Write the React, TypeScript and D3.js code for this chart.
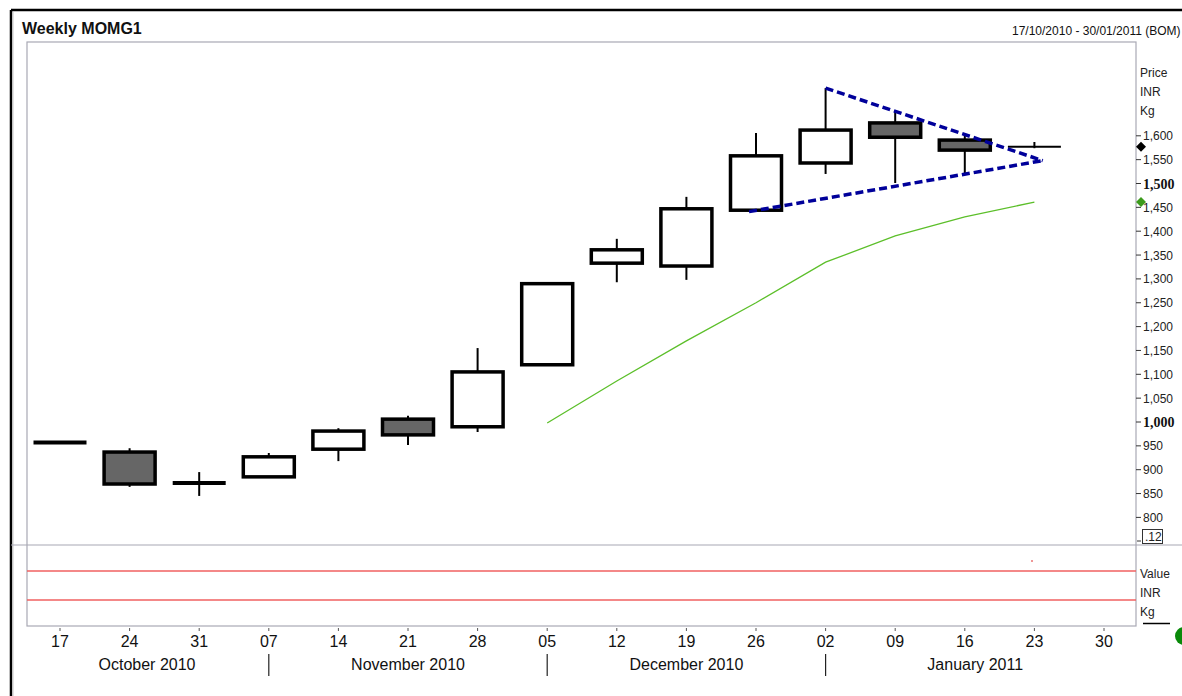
import React from "react";
import * as d3 from "d3";

// Weekly candles (17 Oct 2010 .. 23 Jan 2011)
const weeks = ["17", "24", "31", "07", "14", "21", "28", "05", "12", "19", "26", "02", "09", "16", "23", "30"];
const opens = [957, 937, 872, 885, 943, 1006, 990, 1120, 1333, 1327, 1444, 1543, 1627, 1591, 1577];
const highs = [957, 945, 895, 935, 987, 1013, 1155, 1292, 1384, 1472, 1606, 1700, 1650, 1600, 1587];
const lows = [957, 864, 845, 885, 918, 952, 979, 1118, 1293, 1298, 1444, 1520, 1501, 1518, 1574];
const closes = [957, 870, 872, 927, 981, 973, 1105, 1290, 1361, 1447, 1558, 1612, 1597, 1570, 1577];

// moving average line (starts at week index 7)
const maStart = 7;
const maValues = [998, 1086, 1170, 1250, 1335, 1390, 1430, 1461];

// triangle trend lines: [index, value]
const upperTrend: [number, number][] = [[11, 1700], [14.12, 1548]];
const lowerTrend: [number, number][] = [[9.9, 1441], [14.12, 1548]];

const months = [
  { label: "October 2010", at: 1.25 },
  { label: "November 2010", at: 5 },
  { label: "December 2010", at: 9 },
  { label: "January 2011", at: 13.15 },
];
const monthSeps = [3, 7, 11];

const priceTicks = d3.range(800, 1601, 50);
const boldTicks = [1000, 1500];

const W = 1182, H = 696;
const plotL = 27, plotR = 1136, plotT = 42, mainB = 545, lowB = 626;

const diamond = (cx: number, cy: number, r: number) =>
  `M${cx},${cy - r}L${cx + r},${cy}L${cx},${cy + r}L${cx - r},${cy}Z`;

export default function App() {
  const x = d3.scaleLinear().domain([0, 15]).range([60, 1104]);
  const y = d3.scaleLinear().domain([800, 1600]).range([517.4, 135.8]);
  const bodyW = 51;
  const fmt = d3.format(",");
  const maLine = d3.line<number>().x((_, i) => x(maStart + i)).y((d) => y(d));
  const trend = d3.line<[number, number]>().x((d) => x(d[0])).y((d) => y(d[1]));
  const font = "Arial, 'Liberation Sans', sans-serif";
  const gray = "#a8a8b4";

  return (
    <div style={{ position: "absolute", left: 0, top: 0 }}>
      <svg width={W} height={H} style={{ display: "block", fontFamily: font }}>
        <rect x={0} y={0} width={W} height={H} fill="#fff" />
        {/* outer frame */}
        <line x1={11} y1={10} x2={W} y2={10} stroke="#000" strokeWidth={2.5} />
        <line x1={11} y1={10} x2={11} y2={H} stroke="#000" strokeWidth={2.5} />
        <line x1={13} y1={12} x2={13} y2={H} stroke="#c8c8c8" strokeWidth={1} />
        <text x={22} y={34} fontSize={16} fontWeight="bold" fill="#111">Weekly MOMG1</text>
        <text x={1012} y={35} fontSize={12} fill="#111">17/10/2010 - 30/01/2011 (BOM)</text>

        {/* panels */}
        <rect x={plotL} y={plotT} width={plotR - plotL} height={lowB - plotT} fill="none" stroke={gray} strokeWidth={1.2} />
        <line x1={11} y1={mainB} x2={W} y2={mainB} stroke={gray} strokeWidth={1.2} />

        {/* right axis */}
        {priceTicks.map((t) => (
          <g key={t}>
            <line x1={plotR} x2={plotR + 5} y1={y(t)} y2={y(t)} stroke="#333" />
            {boldTicks.includes(t) ? (
              <text x={plotR + 7} y={y(t) + 5} fontSize={14} fontWeight="bold" fontFamily="'Liberation Serif', 'Times New Roman', serif" fill="#111">{fmt(t)}</text>
            ) : (
              <text x={plotR + 7} y={y(t) + 4.5} fontSize={12} fill="#222">{fmt(t)}</text>
            )}
          </g>
        ))}
        <text x={1140} y={77} fontSize={12} fill="#222">Price</text>
        <text x={1140} y={96} fontSize={12} fill="#222">INR</text>
        <text x={1140} y={115} fontSize={12} fill="#222">Kg</text>
        <line x1={plotR + 1} x2={plotR + 5} y1={541} y2={541} stroke="#333" />
        <rect x={1142.5} y={529.5} width={20} height={14} fill="#fff" stroke="#333" />
        <text x={1145} y={541} fontSize={12} fill="#222">.12</text>

        {/* last value markers */}
        <path d={diamond(plotR + 5, y(closes[closes.length - 1]), 5)} fill="#000" />
        <path d={diamond(plotR + 5, y(maValues[maValues.length - 1]), 5)} fill="#3c9b1c" />

        {/* moving average */}
        <path d={maLine(maValues)!} fill="none" stroke="#5cbf2a" strokeWidth={1.3} />

        {/* candles */}
        {opens.map((o, i) => {
          const c = closes[i];
          const cx = x(i);
          const top = y(Math.max(o, c));
          const bot = y(Math.min(o, c));
          const last = i === opens.length - 1;
          const flat = Math.abs(o - c) < 3;
          return (
            <g key={i}>
              <line x1={cx} x2={cx} y1={y(highs[i])} y2={y(lows[i])} stroke="#000" strokeWidth={2} />
              {flat ? (
                <line x1={cx - bodyW / 2 - 1} x2={cx + bodyW / 2 + 1} y1={y(c)} y2={y(c)} stroke="#000" strokeWidth={last ? 2 : 4} />
              ) : (
                <rect x={cx - bodyW / 2} y={top} width={bodyW} height={bot - top} fill={c < o ? "#666666" : "#fff"} stroke="#000" strokeWidth={3.5} />
              )}
            </g>
          );
        })}

        {/* trend lines */}
        <path d={trend(upperTrend)!} fill="none" stroke="#00009a" strokeWidth={3.5} strokeDasharray="8,4" />
        <path d={trend(lowerTrend)!} fill="none" stroke="#00009a" strokeWidth={3.5} strokeDasharray="8,4" />

        {/* lower panel */}
        <line x1={plotL} x2={plotR} y1={571} y2={571} stroke="#f06060" strokeWidth={1.5} />
        <line x1={plotL} x2={plotR} y1={600} y2={600} stroke="#f06060" strokeWidth={1.5} />
        <rect x={1031} y={560.5} width={2} height={1} fill="#e03030" />
        <text x={1140} y={578} fontSize={12} fill="#222">Value</text>
        <text x={1140} y={597} fontSize={12} fill="#222">INR</text>
        <text x={1140} y={616} fontSize={12} fill="#222">Kg</text>
        <line x1={1143} x2={1170} y1={623.5} y2={623.5} stroke="#000" strokeWidth={1.5} />
        <circle cx={1184} cy={636} r={9} fill="#0a8a0a" />

        {/* bottom axis */}
        {weeks.map((w, i) => (
          <g key={i}>
            <line x1={x(i)} x2={x(i)} y1={628} y2={631} stroke="#555" />
            <text x={x(i)} y={647} fontSize={16} textAnchor="middle" fill="#111">{w}</text>
          </g>
        ))}
        {months.map((m) => (
          <text key={m.label} x={x(m.at)} y={670} fontSize={16} textAnchor="middle" fill="#111">{m.label}</text>
        ))}
        {monthSeps.map((s) => (
          <line key={s} x1={x(s)} x2={x(s)} y1={654} y2={676} stroke="#222" strokeWidth={1.2} />
        ))}
      </svg>
    </div>
  );
}
